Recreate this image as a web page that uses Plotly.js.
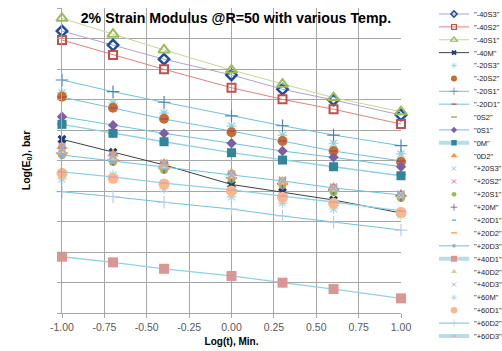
<!DOCTYPE html>
<html><head><meta charset="utf-8">
<script src="https://cdn.plot.ly/plotly-3.0.1.min.js"></script>
<style>html,body{margin:0;padding:0;background:#fff}#chart{width:502px;height:351px}</style>
</head><body><div id="chart"></div>
<script>
// ---- data ----
const logT = [-1, -0.699, -0.398, 0, 0.301, 0.602, 1];
const xTickVals = [-1, -0.75, -0.5, -0.25, 0, 0.25, 0.5, 0.75, 1];
const xTickText = ["-1.00", "-0.75", "-0.50", "-0.25", "0.00", "0.25", "0.50", "0.75", "1.00"];
const seriesNames = ['"-40S3"', '"-40S2"', '"-40S1"', '"-40M"', '"-20S3"', '"-20S2"', '"-20S1"', '"-20D1"',
  '"0S2"', '"0S1"', '"0M"', '"0D2"', '"+20S3"', '"+20S2"', '"+20S1"', '"+20M"', '"+20D1"', '"+20D2"',
  '"+20D3"', '"+40D1"', '"+40D2"', '"+40D3"', '"+60M"', '"+60D1"', '"+60D2"', '"+60D3"'];
const m40S3 = [4.849, 4.757, 4.664, 4.561, 4.467, 4.397, 4.298];
const m40S2 = [4.790, 4.692, 4.598, 4.477, 4.401, 4.336, 4.239];
const m40S1 = [4.932, 4.828, 4.725, 4.593, 4.500, 4.412, 4.320];
const m40M  = [4.139, 4.054, 3.971, 3.843, 3.793, 3.741, 3.656];
const m20S3 = [4.443, 4.377, 4.311, 4.226, 4.167, 4.113, 4.043];
const m20S2 = [4.418, 4.346, 4.274, 4.185, 4.128, 4.062, 3.992];
const m20S1 = [4.528, 4.451, 4.382, 4.292, 4.228, 4.167, 4.097];
const m20D1 = [4.416, 4.344, 4.272, 4.193, 4.128, 4.062, 3.997];
const z0S2  = [4.239, 4.180, 4.121, 4.056, 4.003, 3.957, 3.911];
const z0S1  = [4.287, 4.231, 4.178, 4.113, 4.062, 4.021, 3.959];
const z0M   = [4.237, 4.178, 4.123, 4.051, 4.003, 3.959, 3.900];
const z0D2  = [4.091, 4.043, 3.984, 3.918, 3.866, 3.826, 3.780];
const p20S3 = [4.089, 4.036, 3.984, 3.911, 3.872, 3.826, 3.780];
const p20S2 = [4.069, 4.023, 3.971, 3.898, 3.859, 3.813, 3.767];
const p20S1 = [4.036, 3.990, 3.938, 3.879, 3.839, 3.793, 3.754];
const p20M  = [4.049, 4.003, 3.951, 3.885, 3.846, 3.807, 3.767];
const p20D1 = [4.056, 4.003, 3.951, 3.892, 3.852, 3.807, 3.767];
const p20D2 = [4.043, 3.997, 3.944, 3.885, 3.846, 3.800, 3.761];
const p20D3 = [4.036, 3.997, 3.957, 3.905, 3.866, 3.820, 3.774];
const p40D1 = [3.369, 3.332, 3.290, 3.243, 3.199, 3.157, 3.096];
const p40D2 = [4.062, 4.016, 3.964, 3.898, 3.859, 3.813, 3.767];
const p40D3 = [4.075, 4.030, 3.977, 3.905, 3.866, 3.820, 3.774];
const p60M  = [3.879, 3.905, 3.813, 3.761, 3.721, 3.682, 3.643];
const p60D1 = [3.916, 3.883, 3.846, 3.800, 3.759, 3.719, 3.660];
const p60D2 = [3.795, 3.763, 3.726, 3.682, 3.636, 3.595, 3.544];
const p60D3 = [3.925, 3.892, 3.852, 3.807, 3.767, 3.728, 3.669];
const seriesValues = [m40S3, m40S2, m40S1, m40M, m20S3, m20S2, m20S1, m20D1, z0S2, z0S1, z0M, z0D2,
  p20S3, p20S2, p20S1, p20M, p20D1, p20D2, p20D3, p40D1, p40D2, p40D3, p60M, p60D1, p60D2, p60D3];

// ---- styles ----
const LB = '#6cc3db', LBT = '#8fd2e4';
const styles = [
  {line:'#b3a2c7', lw:1, sym:'diamond-open', c:'#1f4e9a', s:8, mw:2.5},
  {line:'#e0807e', lw:1, sym:'square-open', c:'#c0504d', s:8, mw:2},
  {line:'#c3d69b', lw:1, sym:'triangle-up-open', c:'#9bbb59', s:10, mw:2},
  {line:'#404040', lw:1, sym:'x', c:'#1f3c78', s:8, mw:0},
  {line:null, sym:'asterisk-open', c:'#93cddd', s:8, mw:1.2},
  {line:null, sym:'circle', c:'#c0712f', s:10, mw:0},
  {line:LB, lw:1, sym:'cross-thin-open', c:'#4f81bd', s:9, mw:1.2},
  {line:LB, lw:1, sym:'line-ew-open', c:'#c0504d', s:6, mw:2},
  {line:null, sym:'line-ew-open', c:'#9bbb59', s:7, mw:2.5},
  {line:LB, lw:1, sym:'diamond', c:'#7f5ea8', s:8, mw:0},
  {line:LBT, lw:1.3, thick:true, sym:'square', c:'#31859c', s:9, mw:0},
  {line:null, sym:'triangle-up', c:'#f79646', s:10, mw:0},
  {line:null, sym:'x-thin-open', c:'#8db3e2', s:7, mw:1.5},
  {line:null, sym:'x-thin-open', c:'#d9696a', s:7, mw:1.5},
  {line:null, sym:'circle', c:'#9bbb59', s:8, mw:0},
  {line:null, sym:'cross-thin-open', c:'#8064a2', s:8, mw:1.5},
  {line:null, sym:'line-ew-open', c:'#4bacc6', s:5, mw:2},
  {line:null, sym:'line-ew-open', c:'#f79646', s:7, mw:2},
  {line:LB, lw:1, sym:'circle', c:'#95a9d7', s:6, mw:0},
  {line:LBT, lw:1.3, thick:true, sym:'square', c:'#d99694', s:10, mw:0},
  {line:null, sym:'triangle-up', c:'#c3d69b', s:9, mw:0},
  {line:null, sym:'x-thin-open', c:'#b3a2c7', s:7, mw:1.5},
  {line:null, sym:'asterisk-open', c:'#a5d5e3', s:8, mw:1.2},
  {line:null, sym:'circle', c:'#fab88a', s:11, mw:0},
  {line:LB, lw:1, sym:'cross-thin-open', c:'#b9cde5', s:9, mw:1.2},
  {line:LBT, lw:1.3, thick:true, sym:'line-ew-open', c:'#e6a3a2', s:6, mw:2}
];

const traces = seriesNames.map((name, i) => {
  const st = styles[i];
  return {
    type: 'scatter', x: logT, y: seriesValues[i], name: name,
    mode: st.line ? 'lines+markers' : 'markers',
    line: st.line ? {color: st.line, width: st.lw} : undefined,
    marker: {symbol: st.sym, color: st.c, size: st.s, line: {width: st.mw, color: st.c}},
    cliponaxis: false
  };
});

const GRID = '#a6a6a6';
const layout = {
  width: 502, height: 351,
  margin: {l: 62, r: 89, t: 8, b: 38, pad: 0},
  paper_bgcolor: '#fff', plot_bgcolor: '#fff',
  font: {family: 'Liberation Sans, Arial, sans-serif', color: '#595959'},
  title: {text: '<b>2% Strain Modulus @R=50 with various Temp.</b>', font: {size: 14.2, color: '#000', family: 'Liberation Sans, Arial, sans-serif'},
    x: 0.470, xref: 'container', xanchor: 'center', y: 0.949, yref: 'container', yanchor: 'middle'},
  xaxis: {range: [-1, 1], tickvals: xTickVals, ticktext: xTickText, ticks: 'outside', ticklen: 4, tickcolor: GRID,
    showgrid: true, gridcolor: GRID, gridwidth: 1, zeroline: false, showline: true, linecolor: GRID,
    tickfont: {size: 10.5, color: '#595959'},
    title: {text: '<b>Log(t), Min.</b>', font: {size: 10, color: '#000'}, standoff: 6}},
  yaxis: {range: [3, 5], tick0: 3, dtick: 0.2, ticks: 'outside', ticklen: 4, tickcolor: GRID,
    showticklabels: false, showgrid: true, gridcolor: GRID, gridwidth: 1, zeroline: false, showline: true, linecolor: GRID,
    title: {text: '<b>Log(E<sub>0</sub>), bar</b>', font: {size: 10.5, color: '#000'}, standoff: 24}},
  legend: {x: 1.06, xanchor: 'left', y: 1, yanchor: 'top', bgcolor: 'rgba(0,0,0,0)', borderwidth: 0,
    font: {size: 7.5, color: '#222', family: 'Liberation Sans, Arial, sans-serif'}, itemsizing: 'trace'},
  showlegend: true
};

const LEG_X = 434, LEG_Y0 = 14, LEG_STEP = 12.88;
const gd = document.getElementById('chart');
function packLegend() {
  const items = Array.from(gd.querySelectorAll('.legend .traces'));
  if (!items.length) return;
  gd.querySelectorAll('.legend .scrollbar').forEach(s => s.style.display = 'none');
  document.querySelectorAll('clipPath[id^="legend"] rect').forEach(r => {
    r.setAttribute('x', -200); r.setAttribute('y', -500); r.setAttribute('width', 800); r.setAttribute('height', 1500);
  });
  const parse = el => { const m = /translate\(\s*([-\d.e]+)[ ,]+([-\d.e]+)/.exec(el.getAttribute('transform') || ''); return m ? [+m[1], +m[2]] : [0, 0]; };
  const p0 = parse(items[0]);
  const ctm = items[0].getScreenCTM();
  const rect = gd.getBoundingClientRect();
  const dx = LEG_X - (ctm.e - rect.left), dy = LEG_Y0 - (ctm.f - rect.top);
  items.forEach((el, i) => {
    el.setAttribute('transform', 'translate(' + (p0[0] + dx) + ',' + (p0[1] + dy + i * LEG_STEP) + ')');
    el.querySelectorAll('.legendpoints path.scatterpts').forEach(p => p.setAttribute('transform', 'translate(20,0) scale(0.6)'));
    if (styles[i] && styles[i].thick) {
      el.querySelectorAll('.legendlines path').forEach(p => { p.style.strokeWidth = '4px'; p.style.stroke = '#b7dee8'; });
    }
  });
}
Plotly.newPlot(gd, traces, layout, {staticPlot: true, displayModeBar: false}).then(() => {
  packLegend();
  setTimeout(packLegend, 50);
});
</script>
</body></html>
